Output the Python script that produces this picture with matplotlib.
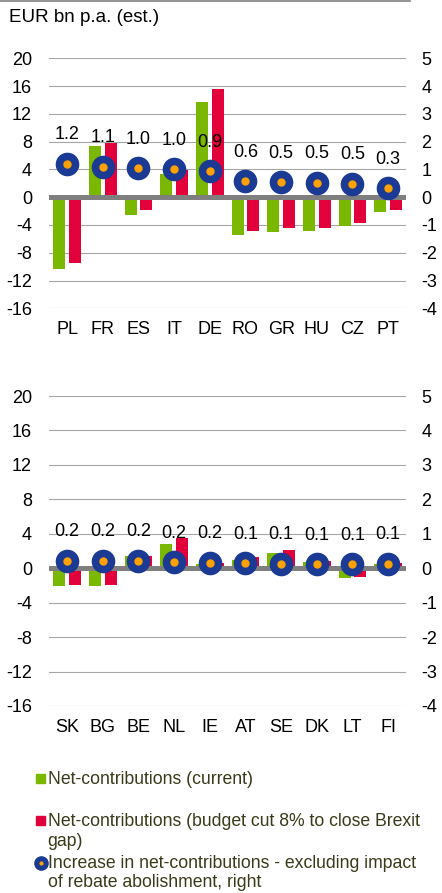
import matplotlib
matplotlib.use("Agg")
import matplotlib.pyplot as plt
from matplotlib.lines import Line2D
from matplotlib.patches import Rectangle
import numpy as np

plt.rcParams['font.family'] = ['Liberation Sans', 'DejaVu Sans']

# ---------------- data ----------------
top_countries = ['PL', 'FR', 'ES', 'IT', 'DE', 'RO', 'GR', 'HU', 'CZ', 'PT']
top_current = [-10.4, 7.3, -2.6, 3.4, 13.7, -5.4, -5.0, -4.8, -4.1, -2.1]
top_cut = [-9.5, 7.8, -1.8, 3.9, 15.6, -4.9, -4.5, -4.4, -3.7, -1.8]
top_increase = [1.2, 1.1, 1.04, 1.0, 0.93, 0.57, 0.54, 0.52, 0.49, 0.32]

bottom_countries = ['SK', 'BG', 'BE', 'NL', 'IE', 'AT', 'SE', 'DK', 'LT', 'FI']
bottom_current = [-2.1, -2.1, 1.4, 2.8, 0.5, 1.0, 1.8, 0.7, -1.1, 0.5]
bottom_cut = [-1.9, -1.9, 1.45, 3.5, 0.6, 1.3, 2.15, 0.8, -1.0, 0.65]
bottom_increase = [0.22, 0.22, 0.22, 0.17, 0.16, 0.14, 0.13, 0.11, 0.11, 0.12]

left_ticks = [20, 16, 12, 8, 4, 0, -4, -8, -12, -16]
right_ticks = [5, 4, 3, 2, 1, 0, -1, -2, -3, -4]

unit_label = 'EUR bn p.a. (est.)'
legend_labels = [
    ['Net-contributions (current)'],
    ['Net-contributions (budget cut 8% to close Brexit', 'gap)'],
    ['Increase in net-contributions - excluding impact', 'of rebate abolishment, right'],
]

# ---------------- style ----------------
GREEN = '#7ab800'
RED = '#e2003a'
NAVY = '#1b3a93'
ORANGE = '#ffa200'
GRID = '#a6a6a6'
ZERO = '#7f7f7f'
LEG_TXT = '#3a3a1a'
FS = 13

W, H = 442, 893
fig = plt.figure(figsize=(W / 100, H / 100), dpi=100)


def fx(px):
    return px / W


def fy(py):
    return 1 - py / H


def panel(rect, countries, cur, cut, inc):
    ax = fig.add_axes(rect)
    x = np.arange(len(countries))
    off, bw = 0.22, 0.33
    ax.bar(x - off, cur, width=bw, color=GREEN, zorder=3)
    ax.bar(x + off, cut, width=bw, color=RED, zorder=3)
    ax.set_xlim(-0.5, len(countries) - 0.5)
    ax.set_ylim(-16, 20)
    ax.set_yticks(left_ticks)
    ax.set_yticklabels([str(t) for t in left_ticks])
    for t in left_ticks:
        if t != 0:
            ax.axhline(t, color=GRID, lw=0.8, zorder=1)
    ax.axhline(0, color=ZERO, lw=3.6, zorder=4)
    ax.set_xticks(x)
    ax.set_xticklabels(countries)
    for s in ax.spines.values():
        s.set_visible(False)
    ax.tick_params(axis='y', length=0, pad=12.5, labelsize=FS, colors='black')
    ax.tick_params(axis='x', length=0, pad=9.5, labelsize=FS, colors='black')

    ax2 = ax.twinx()
    ax2.set_ylim(-4, 5)
    ax2.set_yticks(right_ticks)
    ax2.set_yticklabels([str(t) for t in right_ticks])
    ax2.tick_params(axis='y', length=0, pad=11, labelsize=FS, colors='black')
    for s in ax2.spines.values():
        s.set_visible(False)
    ax2.plot(x, inc, ls='none', marker='o', ms=16, mfc=NAVY, mec=NAVY, zorder=5)
    ax2.plot(x, inc, ls='none', marker='o', ms=5, mfc=ORANGE, mec=ORANGE, zorder=6)
    for xi, v in zip(x, inc):
        ax2.annotate(f'{v:.1f}', (xi, v), xytext=(0, 21), textcoords='offset points',
                     ha='center', va='center', fontsize=FS, color='black', zorder=7)
    ax.set_zorder(1)
    ax2.set_zorder(2)
    return ax, ax2


x0, x1 = fx(49.3), fx(406)
panel([x0, fy(308.3), x1 - x0, fy(58.3) - fy(308.3)],
      top_countries, top_current, top_cut, top_increase)
panel([x0, fy(706), x1 - x0, fy(396) - fy(706)],
      bottom_countries, bottom_current, bottom_cut, bottom_increase)

# header
fig.add_artist(Line2D([0, fx(410)], [fy(0.8), fy(0.8)], color='#808080', lw=1.2))
fig.text(fx(9), fy(17), unit_label, fontsize=13.5, va='center', ha='left', color='black')

# legend
LFS = 12.7
tx = fx(47.7)
fig.add_artist(Rectangle((fx(36), fy(783)), fx(9), 9 / H, color=GREEN, transform=fig.transFigure))
fig.text(tx, fy(784.3), legend_labels[0][0], fontsize=LFS, va='baseline', color=LEG_TXT)

fig.add_artist(Rectangle((fx(36), fy(825)), fx(9), 9 / H, color=RED, transform=fig.transFigure))
fig.text(tx, fy(826), legend_labels[1][0], fontsize=LFS, va='baseline', color=LEG_TXT)
fig.text(tx, fy(846), legend_labels[1][1], fontsize=LFS, va='baseline', color=LEG_TXT)

fig.add_artist(Line2D([fx(40.5)], [fy(863.3)], marker='o', ms=9.5, mfc=NAVY, mec=NAVY,
                      transform=fig.transFigure))
fig.add_artist(Line2D([fx(40.5)], [fy(863.3)], marker='o', ms=2, mfc=ORANGE, mec=ORANGE,
                      transform=fig.transFigure))
fig.text(tx, fy(868.3), legend_labels[2][0], fontsize=LFS, va='baseline', color=LEG_TXT)
fig.text(tx, fy(887.3), legend_labels[2][1], fontsize=LFS, va='baseline', color=LEG_TXT)

fig.savefig('out.png', dpi=100)
